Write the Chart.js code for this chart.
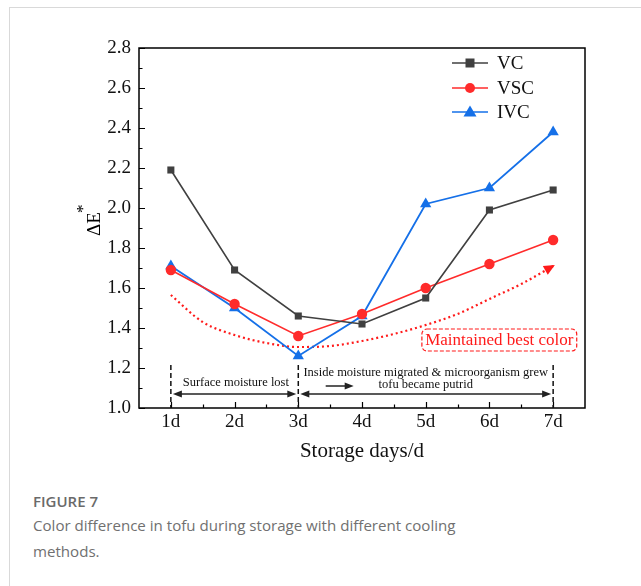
<!DOCTYPE html>
<html>
<head>
<meta charset="utf-8">
<script src="https://cdn.jsdelivr.net/npm/chart.js@4.4.1/dist/chart.umd.min.js"></script>
<style>
  html, body { margin:0; padding:0; background:#fff; }
  body { width:641px; height:586px; position:relative; overflow:hidden; }
  #frameTop { position:absolute; left:9px; top:7px; width:640px; height:0; border-top:1px solid #d9d9d9; }
  #frameLeft { position:absolute; left:9px; top:7px; width:0; height:590px; border-left:1px solid #d9d9d9; }
  #wrap { position:absolute; left:0; top:0; width:641px; height:470px; }
  #cap { position:absolute; left:33px; top:490px; width:590px; font-family:"Open Sans", sans-serif; color:#707070; }
  #cap .t { font-weight:600; font-size:15px; line-height:22px; color:#6a6a6a; }
  #cap .d { font-size:15.1px; line-height:26px; margin-top:0px; }
</style>
</head>
<body>
<div id="frameTop"></div>
<div id="frameLeft"></div>
<div id="wrap"><canvas id="c" width="641" height="470"></canvas></div>
<div id="cap">
  <div class="t">FIGURE 7</div>
  <div class="d">Color difference in tofu during storage with different cooling<br>methods.</div>
</div>
<script>
const categories = ["1d","2d","3d","4d","5d","6d","7d"];
const days = [1,2,3,4,5,6,7];
const vcValues  = [2.19, 1.69, 1.46, 1.42, 1.55, 1.99, 2.09];
const vscValues = [1.69, 1.52, 1.36, 1.47, 1.60, 1.72, 1.84];
const ivcValues = [1.71, 1.50, 1.26, 1.46, 2.02, 2.10, 2.38];
const trendDays   = [1, 1.5, 2, 2.5, 3, 3.5, 4, 4.5, 5, 5.5, 6, 6.5, 7];
const trendValues = [1.565, 1.43, 1.365, 1.325, 1.305, 1.31, 1.335, 1.37, 1.415, 1.47, 1.545, 1.62, 1.71];
const yTicks = [1.0,1.2,1.4,1.6,1.8,2.0,2.2,2.4,2.6,2.8];
const seriesNames = ["VC","VSC","IVC"];

const SERIF = '"Liberation Serif", "Times New Roman", serif';
const cVC = '#404040', cVSC = '#ff2b2b', cIVC = '#1570e8', cTrend = '#ff1a1a';

const toXY = (xs, ys) => xs.map((x,i)=>({x:x, y:ys[i]}));

const decor = {
  id:'decor',
  afterDraw(chart){
    const ctx = chart.ctx, xs = chart.scales.x, ys = chart.scales.y, a = chart.chartArea;
    ctx.save();
    ctx.strokeStyle = '#000'; ctx.lineWidth = 1.5;
    ctx.strokeRect(a.left, a.top, a.right-a.left, a.bottom-a.top);
    ctx.lineWidth = 1.2;
    ctx.beginPath();
    for (let v=1.0; v<=2.801; v+=0.1){
      const y = Math.round(ys.getPixelForValue(v))+0.5;
      const major = Math.abs(Math.round(v*10)%2)===0;
      ctx.moveTo(a.left, y); ctx.lineTo(a.left+(major?6:3.5), y);
    }
    for (let v=1; v<=7.001; v+=0.5){
      const x = Math.round(xs.getPixelForValue(v))+0.5;
      const major = Math.abs(v-Math.round(v))<0.01;
      ctx.moveTo(x, a.bottom); ctx.lineTo(x, a.bottom-(major?6:3.5));
    }
    ctx.stroke();

    // y title
    ctx.fillStyle = '#000';
    ctx.save();
    ctx.translate(100, 224);
    ctx.rotate(-Math.PI/2);
    ctx.font = '19px ' + SERIF;
    ctx.textAlign = 'center'; ctx.textBaseline = 'alphabetic';
    ctx.fillText('\u0394E', 0, 0);
    const w = ctx.measureText('\u0394E').width;
    ctx.font = '17px ' + SERIF;
    ctx.textAlign = 'left';
    ctx.fillText('*', w/2 - 1, -12);
    ctx.restore();

    // arrowhead on trend curve
    const pts = chart.getDatasetMeta(3).data;
    const p1 = pts[pts.length-1], p0 = pts[pts.length-2];
    const ang = Math.atan2(p1.y - p0.y, p1.x - p0.x);
    ctx.fillStyle = cTrend;
    ctx.save();
    ctx.translate(p1.x, p1.y); ctx.rotate(ang);
    ctx.beginPath(); ctx.moveTo(2,0); ctx.lineTo(-9,-5); ctx.lineTo(-9,5); ctx.closePath(); ctx.fill();
    ctx.restore();

    // Maintained best color box
    const bx0 = xs.getPixelForValue(4.94), bx1 = xs.getPixelForValue(7.37);
    const by0 = ys.getPixelForValue(1.395), by1 = ys.getPixelForValue(1.285);
    ctx.strokeStyle = cTrend; ctx.lineWidth = 1.2; ctx.setLineDash([4,2]);
    ctx.beginPath();
    if (ctx.roundRect) ctx.roundRect(bx0, by0, bx1-bx0, by1-by0, 5); else ctx.rect(bx0, by0, bx1-bx0, by1-by0);
    ctx.stroke();
    ctx.setLineDash([]);
    ctx.fillStyle = cTrend;
    ctx.font = '17px ' + SERIF;
    ctx.textAlign = 'center'; ctx.textBaseline = 'middle';
    ctx.fillText('Maintained best color', (bx0+bx1)/2, (by0+by1)/2+1);

    // dashed verticals
    ctx.strokeStyle = '#111'; ctx.lineWidth = 1.5; ctx.setLineDash([5,3]);
    ctx.beginPath();
    [1,3,7].forEach(d=>{
      const x = xs.getPixelForValue(d);
      ctx.moveTo(x, ys.getPixelForValue(1.215)); ctx.lineTo(x, a.bottom);
    });
    ctx.stroke();
    ctx.setLineDash([]);

    const ay = ys.getPixelForValue(1.07);
    function arrowHead(x, y, dir){
      ctx.beginPath(); ctx.moveTo(x, y); ctx.lineTo(x - dir*9, y-3.5); ctx.lineTo(x - dir*9, y+3.5); ctx.closePath(); ctx.fill();
    }
    ctx.fillStyle = '#222'; ctx.strokeStyle = '#222'; ctx.lineWidth = 1.5;
    [[1,3],[3,7]].forEach(([s,e])=>{
      const x0 = xs.getPixelForValue(s)+2, x1 = xs.getPixelForValue(e)-2;
      ctx.beginPath(); ctx.moveTo(x0+4, ay); ctx.lineTo(x1-4, ay); ctx.stroke();
      arrowHead(x0, ay, -1); arrowHead(x1, ay, 1);
    });
    const sx0 = xs.getPixelForValue(3.43), sx1 = xs.getPixelForValue(3.87), sy = ys.getPixelForValue(1.11);
    ctx.beginPath(); ctx.moveTo(sx0, sy); ctx.lineTo(sx1-6, sy); ctx.stroke();
    arrowHead(sx1, sy, 1);

    ctx.fillStyle = '#111';
    ctx.font = '12.5px ' + SERIF;
    ctx.textAlign = 'center'; ctx.textBaseline = 'middle';
    ctx.fillText('Surface moisture lost', xs.getPixelForValue(2.02), ys.getPixelForValue(1.125));
    ctx.fillText('Inside moisture migrated & microorganism grew', xs.getPixelForValue(5.0), ys.getPixelForValue(1.175));
    ctx.fillText('tofu became putrid', xs.getPixelForValue(5.0), ys.getPixelForValue(1.115));

    // legend
    const leg = [[seriesNames[0], cVC, 'rect'], [seriesNames[1], cVSC, 'circle'], [seriesNames[2], cIVC, 'triangle']];
    const ly = [63, 88, 112];
    leg.forEach((L,i)=>{
      const y = ly[i];
      ctx.strokeStyle = L[1]; ctx.fillStyle = L[1]; ctx.lineWidth = 1.6;
      ctx.beginPath(); ctx.moveTo(452, y); ctx.lineTo(488, y); ctx.stroke();
      if (L[2]==='rect'){ ctx.fillRect(465.5, y-4.5, 9, 9); }
      else if (L[2]==='circle'){ ctx.beginPath(); ctx.arc(470, y, 5, 0, Math.PI*2); ctx.fill(); }
      else { ctx.beginPath(); ctx.moveTo(470, y-6.5); ctx.lineTo(476.5, y+4.5); ctx.lineTo(463.5, y+4.5); ctx.closePath(); ctx.fill(); }
      ctx.fillStyle = '#111';
      ctx.font = '19px ' + SERIF; ctx.textAlign = 'left'; ctx.textBaseline = 'middle';
      ctx.fillText(L[0], 497, y+1);
    });
    ctx.restore();
  }
};

new Chart(document.getElementById('c'), {
  type: 'line',
  data: {
    datasets: [
      { label: seriesNames[0], data: toXY(days, vcValues), borderColor: cVC, backgroundColor: cVC,
        borderWidth: 1.6, pointStyle: 'rect', pointRadius: 5, pointBorderWidth: 0, tension: 0 },
      { label: seriesNames[1], data: toXY(days, vscValues), borderColor: cVSC, backgroundColor: cVSC,
        borderWidth: 1.6, pointStyle: 'circle', pointRadius: 5.2, pointBorderWidth: 0, tension: 0 },
      { label: seriesNames[2], data: toXY(days, ivcValues), borderColor: cIVC, backgroundColor: cIVC,
        borderWidth: 1.8, pointStyle: 'triangle', pointRadius: 6.5, pointBorderWidth: 0, tension: 0 },
      { label: 'trend', data: toXY(trendDays, trendValues), borderColor: cTrend, backgroundColor: cTrend,
        borderWidth: 2.2, borderDash: [2, 3], pointRadius: 0, tension: 0.4, cubicInterpolationMode: 'monotone' }
    ]
  },
  options: {
    responsive: false,
    animation: false,
    events: [],
    layout: { padding: { left: 0, right: 56, top: 48, bottom: 6 } },
    plugins: { legend: { display: false }, tooltip: { enabled: false } },
    scales: {
      x: {
        type: 'linear', min: 0.5, max: 7.5,
        afterBuildTicks: s => { s.ticks = days.map(v => ({ value: v })); },
        afterFit: s => { s.height = 56; },
        grid: { display: false, drawTicks: false },
        border: { display: false },
        ticks: { callback: (v, i) => categories[i], color: '#111', font: { family: SERIF, size: 19 }, padding: 3, maxRotation: 0, autoSkip: false },
        title: { display: true, text: 'Storage days/d', color: '#111', font: { family: SERIF, size: 21 }, padding: { top: 2, bottom: 0 } }
      },
      y: {
        min: 1.0, max: 2.8,
        afterBuildTicks: s => { s.ticks = yTicks.map(v => ({ value: v })); },
        afterFit: s => { s.width = 139; },
        grid: { display: false, drawTicks: false },
        border: { display: false },
        ticks: { callback: v => v.toFixed(1), color: '#111', font: { family: SERIF, size: 19 }, padding: 8 }
      }
    }
  },
  plugins: [decor]
});
</script>
</body>
</html>
